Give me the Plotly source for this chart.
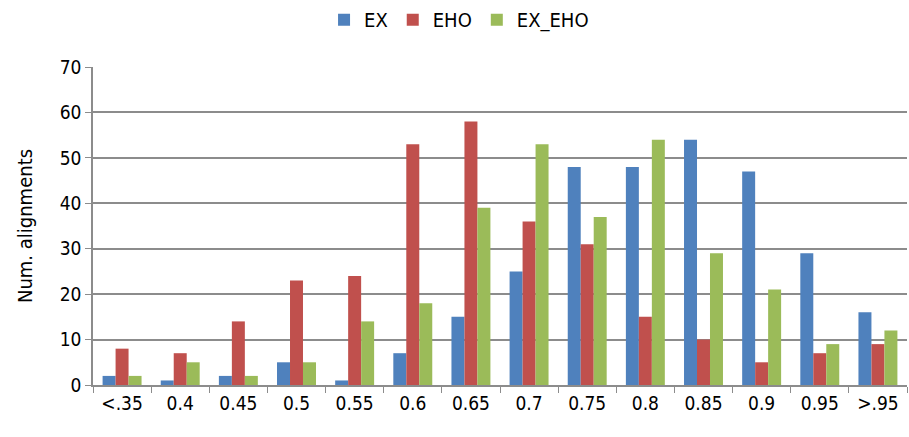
import plotly.graph_objects as go

categories = ["<.35", "0.4", "0.45", "0.5", "0.55", "0.6", "0.65", "0.7",
              "0.75", "0.8", "0.85", "0.9", "0.95", ">.95"]
ex = [2, 1, 2, 5, 1, 7, 15, 25, 48, 48, 54, 47, 29, 16]
eho = [8, 7, 14, 23, 24, 53, 58, 36, 31, 15, 10, 5, 7, 9]
ex_eho = [2, 5, 2, 5, 14, 18, 39, 53, 37, 54, 29, 21, 9, 12]

series = [("EX", ex, "#4F81BD"), ("EHO", eho, "#C0504D"), ("EX_EHO", ex_eho, "#9BBB59")]

fig = go.Figure()
for name, vals, color in series:
    fig.add_trace(go.Bar(x=categories, y=vals, name=name,
                         marker=dict(color=color, line=dict(width=0))))

font = "DejaVu Sans Condensed, Liberation Sans Narrow, Arial"
fig.update_layout(
    width=909, height=437,
    margin=dict(l=93, r=2, t=67, b=52, autoexpand=False),
    paper_bgcolor="white", plot_bgcolor="white",
    barmode="group", bargap=0.33, bargroupgap=0,
    font=dict(family=font, size=19, color="#000000"),
    legend=dict(orientation="h", xref="container", x=0.505, xanchor="center",
                yref="container", y=0.955, yanchor="middle",
                font=dict(size=20), itemwidth=30, traceorder="normal"),
    showlegend=True,
)
fig.update_xaxes(
    type="category", showline=True, linecolor="#8c8c8c", linewidth=1.5,
    ticks="outside", tickson="boundaries", ticklen=6, tickcolor="#8c8c8c",
    showgrid=False, tickfont=dict(size=19),
)
fig.update_yaxes(
    range=[0, 70], dtick=10, showline=True, linecolor="#8c8c8c", linewidth=1.5,
    ticks="outside", ticklen=6, tickcolor="#8c8c8c",
    showgrid=True, gridcolor="#8c8c8c", gridwidth=1.5,
    title=dict(text="Num. alignments", font=dict(size=20), standoff=22),
    tickfont=dict(size=19), zeroline=False,
)

fig.write_html("out.html")
